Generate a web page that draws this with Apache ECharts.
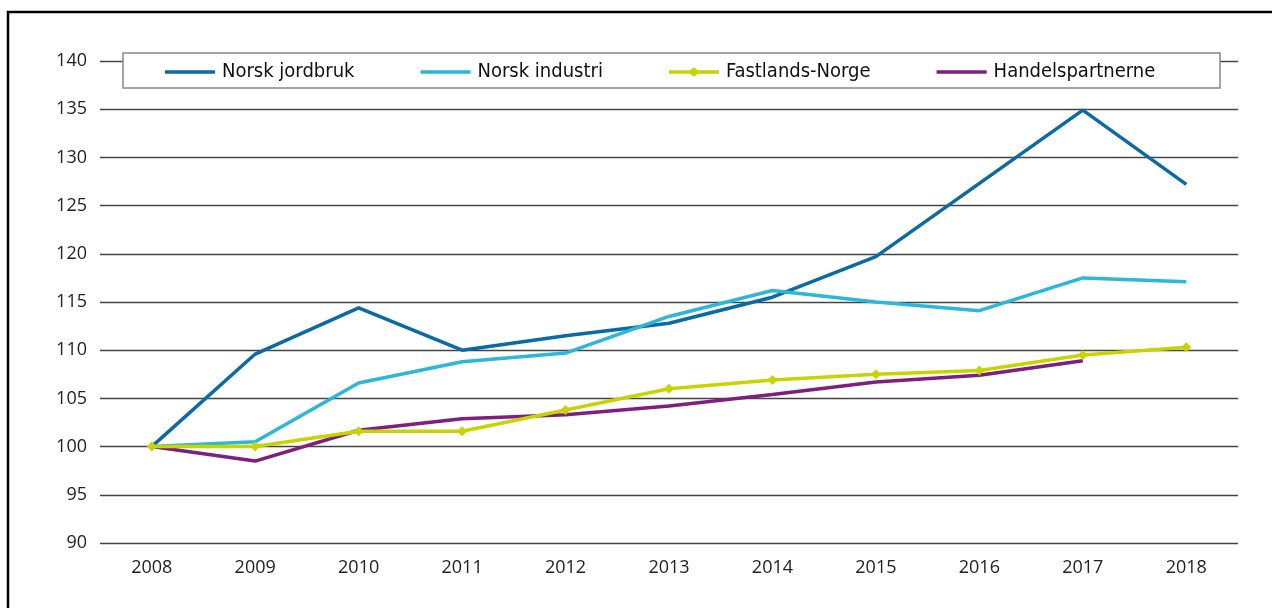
<!DOCTYPE html>
<html>
<head>
<meta charset="utf-8">
<script src="https://cdn.jsdelivr.net/npm/echarts@6/dist/echarts.min.js"></script>
<style>
  html, body { margin: 0; padding: 0; background: #fff; }
  #chart { width: 1272px; height: 608px; }
</style>
</head>
<body>
<div id="chart"></div>
<script>
var years = ['2008', '2009', '2010', '2011', '2012', '2013', '2014', '2015', '2016', '2017', '2018'];
var jordbruk = [100, 109.6, 114.4, 110.0, 111.5, 112.8, 115.5, 119.7, 127.3, 134.9, 127.2];
var industri = [100, 100.5, 106.6, 108.8, 109.7, 113.5, 116.2, 115.0, 114.1, 117.5, 117.1];
var fastland = [100, 100, 101.6, 101.6, 103.8, 106.0, 106.9, 107.5, 107.9, 109.5, 110.3];
var handel = [100, 98.5, 101.7, 102.9, 103.3, 104.2, 105.4, 106.7, 107.4, 108.9, null];

var axisFont = "'Open Sans', 'Noto Sans', sans-serif";
var legendFont = "'Liberation Sans Narrow', 'DejaVu Sans Condensed', 'Roboto', sans-serif";

// legend icons, drawn in a 50x12 box (the first two moves fix the box)
var lineIcon = 'path://M0,0 M50,12 M0,4.3 L50,4.3 L50,7.7 L0,7.7 Z';
var diamondIcon = 'path://M0,0 M50,12 M0,4.3 L21,4.3 L25,1.5 L29,4.3 L50,4.3 L50,7.7 L29,7.7 L25,10.5 L21,7.7 L0,7.7 Z';

var chart = echarts.init(document.getElementById('chart'));

function line(name, data, color, marker) {
    return {
        name: name,
        type: 'line',
        data: data,
        symbol: marker ? 'diamond' : 'none',
        symbolSize: 10,
        showSymbol: !!marker,
        lineStyle: { width: 3.5, color: color },
        itemStyle: { color: color },
        emphasis: { disabled: true },
        animation: false
    };
}

var option = {
    animation: false,
    grid: { left: 100, right: 34, top: 61, bottom: 65 },
    graphic: [
        {
            type: 'rect',
            shape: { x: 8, y: 12, width: 1300, height: 700 },
            style: { fill: 'none', stroke: '#000', lineWidth: 2.5 },
            z: 100
        },
        {
            type: 'rect',
            shape: { x: 123, y: 53, width: 1097, height: 35 },
            style: { fill: '#fff', stroke: '#888', lineWidth: 1.5 },
            z: 100
        }
    ],
    legend: {
        z: 200,
        left: 160,
        top: 57,
        itemWidth: 50,
        itemHeight: 12,
        itemGap: 66,
        textStyle: { fontFamily: legendFont, fontSize: 20, color: '#111', padding: [0, 0, 0, 2] },
        data: [
            { name: 'Norsk jordbruk', icon: lineIcon },
            { name: 'Norsk industri', icon: lineIcon },
            { name: 'Fastlands-Norge', icon: diamondIcon },
            { name: 'Handelspartnerne', icon: lineIcon }
        ]
    },
    xAxis: {
        type: 'category',
        data: years,
        boundaryGap: true,
        axisLine: { show: false },
        axisTick: { show: false },
        axisLabel: { fontFamily: axisFont, fontSize: 18, color: '#222', margin: 16 }
    },
    yAxis: {
        type: 'value',
        min: 90,
        max: 140,
        interval: 5,
        axisLine: { show: false },
        axisTick: { show: false },
        axisLabel: { fontFamily: axisFont, fontSize: 18, color: '#222', margin: 13 },
        splitLine: { lineStyle: { color: '#444', width: 1.3 } }
    },
    series: [
        line('Norsk jordbruk', jordbruk, '#0a6aa8', false),
        line('Norsk industri', industri, '#2ab7d9', false),
        line('Handelspartnerne', handel, '#7e1f80', false),
        line('Fastlands-Norge', fastland, '#c8d400', true)
    ]
};
chart.setOption(option);
</script>
</body>
</html>
